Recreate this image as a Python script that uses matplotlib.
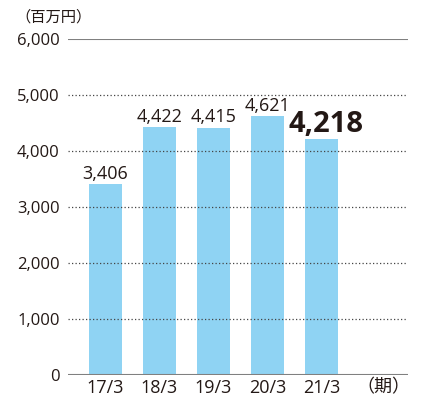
import matplotlib
matplotlib.use("Agg")
import matplotlib.pyplot as plt

plt.rcParams['font.family'] = ['Open Sans', 'Noto Sans CJK JP', 'DejaVu Sans']

categories = ["17/3", "18/3", "19/3", "20/3", "21/3"]
values = [3406, 4422, 4415, 4621, 4218]
value_labels = ["3,406", "4,422", "4,415", "4,621", "4,218"]
yticks = [0, 1000, 2000, 3000, 4000, 5000, 6000]
ytick_labels = ["0", "1,000", "2,000", "3,000", "4,000", "5,000", "6,000"]

text_color = "#231815"
bar_color = "#8fd3f3"

fig = plt.figure(figsize=(4.21, 4.03), dpi=100)
ax = fig.add_axes([68/421, 1-375/403, (408-68)/421, (375-39)/403])

x = list(range(len(categories)))
bars = ax.bar(x, values, width=0.61, color=bar_color, zorder=1)

for yv in yticks[1:-1]:
    ax.axhline(yv, color="#444444", lw=0.9, ls=(0, (1, 1.8)), zorder=2)
ax.axhline(6000, color="#808080", lw=1.5, zorder=2)
ax.axhline(0, color="#808080", lw=1.5, zorder=3)

for i, (xi, v, lab) in enumerate(zip(x, values, value_labels)):
    if i == len(values) - 1:
        ax.annotate(lab, (xi, v), xytext=(3, 0), textcoords="offset points",
                    ha="center", va="bottom", fontsize=21, fontweight="bold",
                    color=text_color, zorder=4)
    else:
        ax.annotate(lab, (xi, v), xytext=(0, 1), textcoords="offset points",
                    ha="center", va="bottom", fontsize=13, color=text_color, zorder=4)

ax.set_xlim(-0.694, 5.6)
ax.set_ylim(0, 6000)
ax.set_yticks(yticks)
ax.set_yticklabels(ytick_labels, fontsize=12, color=text_color)
ax.set_xticks(x)
ax.set_xticklabels(categories, fontsize=13, color=text_color)
ax.tick_params(axis="y", length=0, pad=6)
ax.tick_params(axis="x", length=0, pad=3)
for s in ax.spines.values():
    s.set_visible(False)

fig.text(15/421, 1-17/403, "（百万円）", fontsize=11, color=text_color,
         ha="left", va="center", family=['Noto Sans CJK JP'])
fig.text(410/421, 1-387/403, "（期）", fontsize=13, color=text_color,
         ha="right", va="center", family=['Noto Sans CJK JP'])

fig.savefig("out.png", dpi=100)
